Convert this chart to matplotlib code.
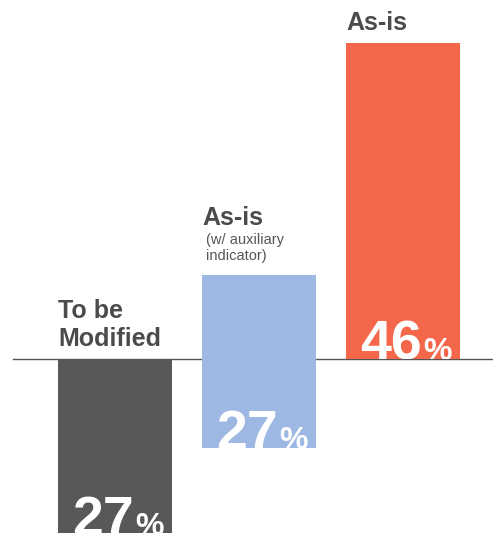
import matplotlib
matplotlib.use("Agg")
import matplotlib.pyplot as plt
import numpy as np

plt.rcParams['font.family'] = ['Liberation Sans', 'DejaVu Sans']

# ---- data ----
categories = ["To be\nModified", "As-is", "As-is"]
subtitles = ["", "(w/ auxiliary\nindicator)", ""]
pct_values = [27, 27, 46]
# bar extents on a common vertical scale (0 = reference line)
bar_tops = [0.0, 12.2, 46.0]
bar_bottoms = [-25.6, -13.1, 0.0]
colors = ["#595758", "#9db8e2", "#f5674a"]

# ---- figure ----
fig = plt.figure(figsize=(4.93, 5.33), dpi=100)
ax = fig.add_axes([0, 0, 1, 1])
ax.set_xlim(-0.7986, 2.625)
ax.set_ylim(-25.47, 52.34)
ax.axis('off')

x = np.arange(len(pct_values))
w = 0.792
heights = np.array(bar_tops) - np.array(bar_bottoms)
bars = ax.bar(x, heights, bottom=bar_bottoms, width=w, color=colors,
              zorder=2, linewidth=0)

ax.axhline(0, xmin=13 / 493, xmax=1, color="#555555", lw=1.0, zorder=1)

label_color = "#4b4b4b"
for xi, top, bot, cat, sub, val, bar in zip(x, bar_tops, bar_bottoms,
                                             categories, subtitles,
                                             pct_values, bars):
    left = xi - w / 2
    if sub:
        ax.annotate(sub, xy=(left, top), xytext=(4, 15),
                    textcoords='offset pixels', ha='left', va='baseline',
                    fontsize=10.5, color="#555555", linespacing=1.22,
                    annotation_clip=False)
        ax.annotate(cat, xy=(left, top), xytext=(0, 50),
                    textcoords='offset pixels', ha='left', va='baseline',
                    fontsize=18, fontweight='bold', color=label_color,
                    annotation_clip=False)
    else:
        ax.annotate(cat, xy=(left, top), xytext=(0, 13),
                    textcoords='offset pixels', ha='left', va='baseline',
                    fontsize=18, fontweight='bold', color=label_color,
                    linespacing=1.2, annotation_clip=False)

    t = ax.annotate(f"{val}", xy=(left, bot), xytext=(14, -1),
                    textcoords='offset pixels', ha='left', va='baseline',
                    fontsize=40, fontweight='bold', color='white',
                    zorder=3, annotation_clip=False)
    t.set_clip_path(bar)
    p = ax.annotate("%", xy=(left, bot), xytext=(77, -1),
                    textcoords='offset pixels', ha='left', va='baseline',
                    fontsize=23, fontweight='bold', color='white',
                    zorder=3, annotation_clip=False)
    p.set_clip_path(bar)

fig.savefig("out.png", dpi=100)
